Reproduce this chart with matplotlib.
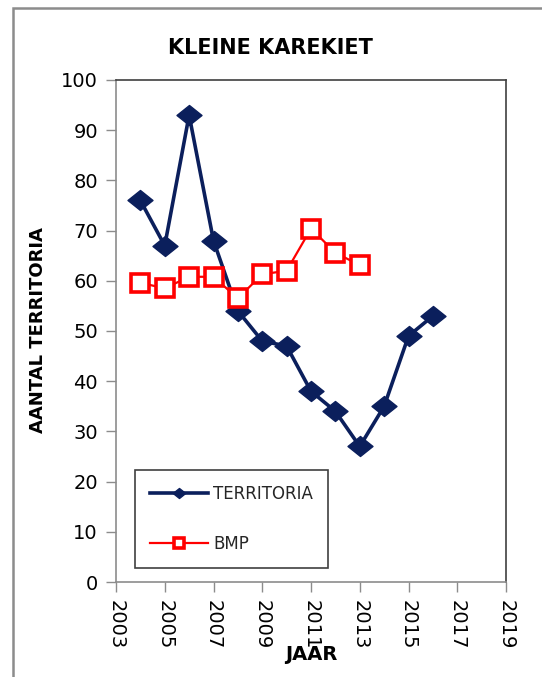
import numpy as np
import matplotlib
matplotlib.use('Agg')
import matplotlib.pyplot as plt
from matplotlib.patches import Rectangle
from matplotlib.path import Path

plt.rcParams['font.family'] = ['DejaVu Sans']

# jaren en tellingen
jaren_terr = [2004, 2005, 2006, 2007, 2008, 2009, 2010, 2011, 2012, 2013, 2014, 2015, 2016]
territoria = [76, 67, 93, 68, 54, 48, 47, 38, 34, 27, 35, 49, 53]

jaren_bmp = [2004, 2005, 2006, 2007, 2008, 2009, 2010, 2011, 2012, 2013]
bmp = [59.6, 58.5, 60.8, 60.8, 56.5, 61.3, 62.0, 70.4, 65.6, 63.1]

x_ticks = list(range(2003, 2020, 2))
y_ticks = list(range(0, 101, 10))

navy = '#0b1f5c'
rood = '#ff0000'

# brede ruit zoals in excel
ruit = Path([(-1, 0), (0, 0.8), (1, 0), (0, -0.8), (-1, 0)],
            [Path.MOVETO, Path.LINETO, Path.LINETO, Path.LINETO, Path.CLOSEPOLY])

fig = plt.figure(figsize=(5.42, 6.77), dpi=100)
fig.patch.set_facecolor('white')

# kader rond de grafiek
kader = Rectangle((13 / 542, -0.1), 1.2, 1 - 8 / 677 + 0.1, transform=fig.transFigure,
                  fill=False, edgecolor='#8c8c8c', linewidth=1.8)
fig.patches.append(kader)

ax = fig.add_axes([116 / 542, 1 - 582 / 677, 390 / 542, 502 / 677])

ax.plot(jaren_terr, territoria, color=navy, linewidth=2.6, marker=ruit,
        markersize=18, markerfacecolor=navy, markeredgecolor=navy, label='TERRITORIA')
ax.plot(jaren_bmp, bmp, color=rood, linewidth=1.6, marker='s', markersize=13,
        markerfacecolor='white', markeredgecolor=rood, markeredgewidth=2.6, label='BMP')

ax.set_xlim(2003, 2019)
ax.set_ylim(0, 100)
ax.set_xticks(x_ticks)
ax.set_yticks(y_ticks)
ax.set_xticklabels([str(j) for j in x_ticks], rotation=270, fontsize=14)
ax.set_yticklabels([str(v) for v in y_ticks], fontsize=14)
ax.tick_params(direction='out', length=7, width=1, color='#8c8c8c', pad=6)

for kant in ['left', 'bottom']:
    ax.spines[kant].set_color('#8c8c8c')
    ax.spines[kant].set_linewidth(1.2)
for kant in ['right', 'top']:
    ax.spines[kant].set_color('#404040')
    ax.spines[kant].set_linewidth(1.2)

fig.text(270 / 542, 1 - 48 / 677, 'KLEINE KAREKIET', ha='center', va='center',
         fontsize=15, fontweight='bold')
fig.text(38 / 542, 1 - 330 / 677, 'AANTAL TERRITORIA', ha='center', va='center',
         rotation=90, fontsize=13, fontweight='bold')
fig.text(311 / 542, 1 - 655 / 677, 'JAAR', ha='center', va='center',
         fontsize=14, fontweight='bold')

leg = ax.legend(loc='lower left', bbox_to_anchor=(0.049, 0.028), borderaxespad=0,
                fontsize=12, markerscale=0.5, handlelength=3.5, handletextpad=0.3,
                labelspacing=1.9, borderpad=0.9, fancybox=False, framealpha=1)
leg.get_frame().set_edgecolor('#404040')
leg.get_frame().set_linewidth(1.2)
for t in leg.get_texts():
    t.set_color('#262626')

fig.savefig('out.png', dpi=100, facecolor='white')
